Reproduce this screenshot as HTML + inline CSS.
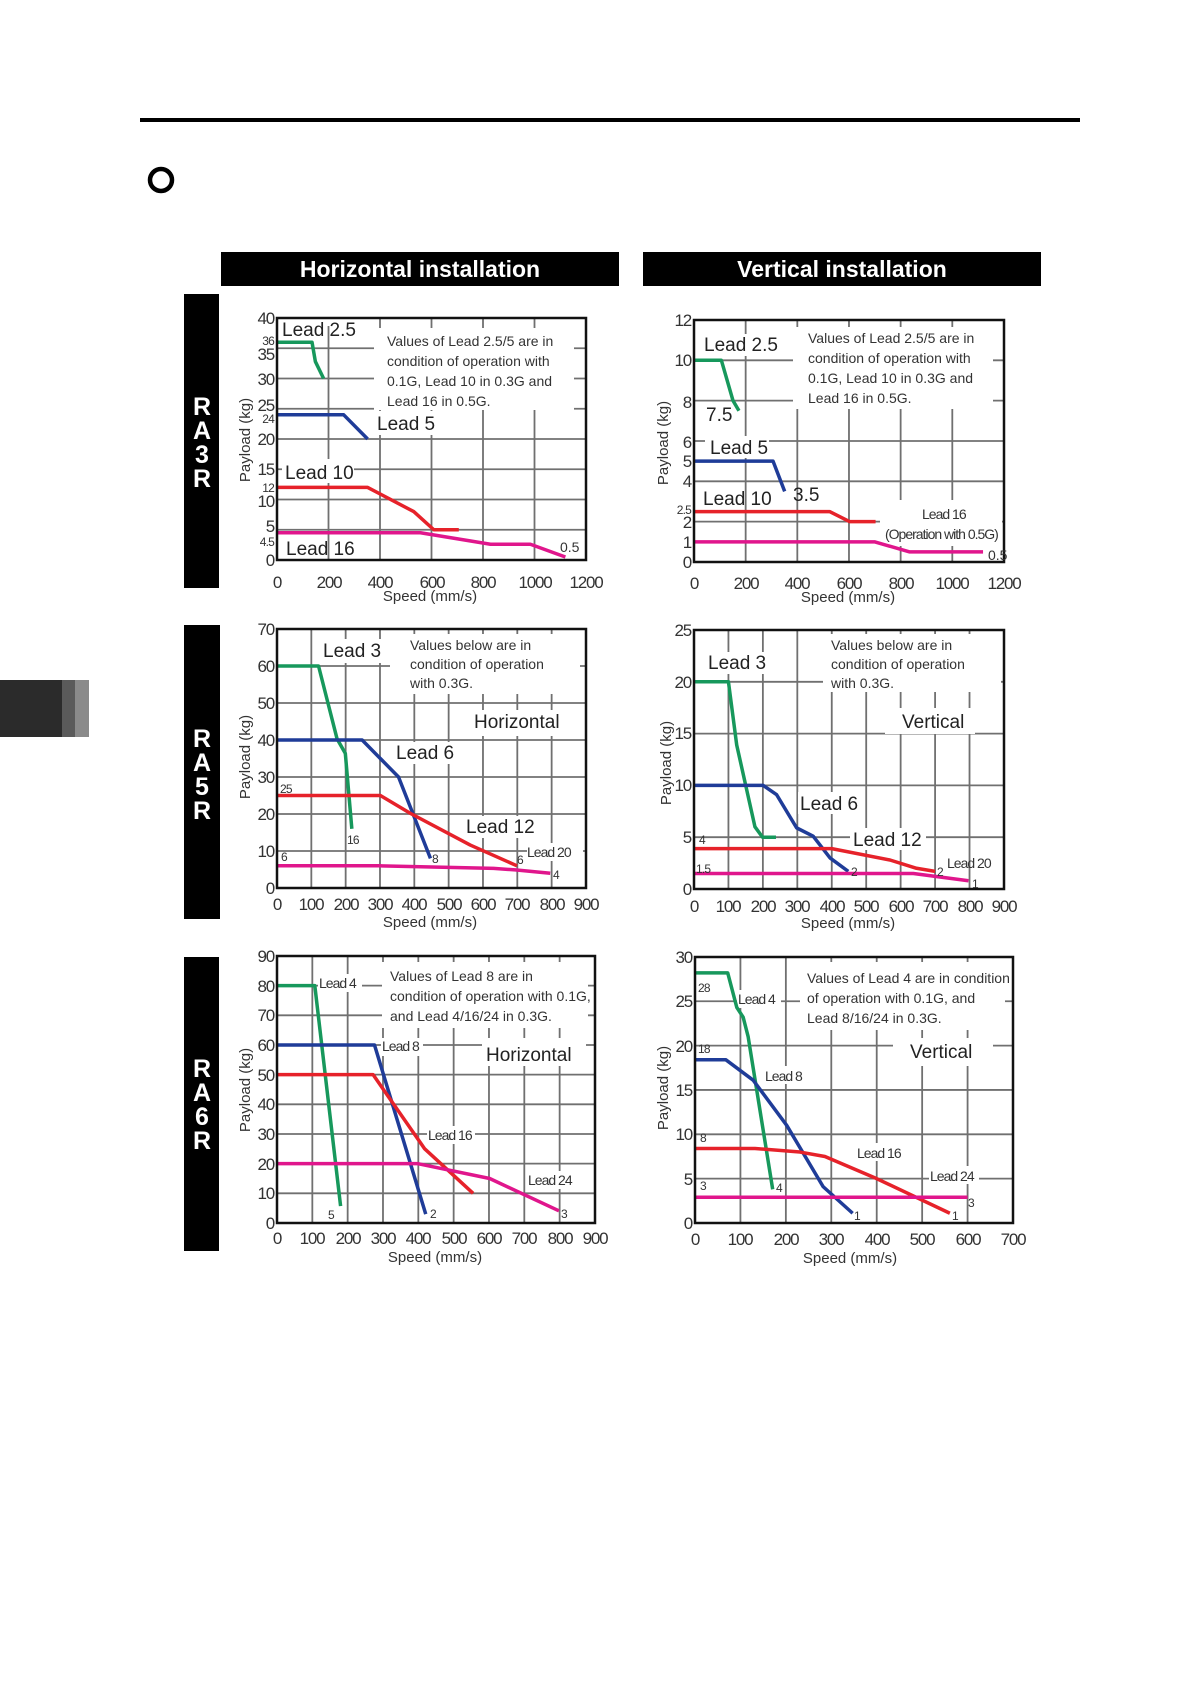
<!DOCTYPE html>
<html><head><meta charset="utf-8"><style>
html,body{margin:0;padding:0;background:#fff;width:1191px;height:1684px;overflow:hidden}
svg{display:block;font-family:"Liberation Sans",sans-serif}
.g{fill:none;stroke:#707070;stroke-width:1.8}
.b{fill:none;stroke:#111;stroke-width:2.5}
.d{fill:none;stroke-width:3.5;stroke-linejoin:round}
.gr{stroke:#17985c}.bl{stroke:#1f3c98}.rd{stroke:#e6222a}.mg{stroke:#e0168c}
.t{fill:#333;font-size:17px;letter-spacing:-1.2px}
.yl{fill:#333;font-size:17px;letter-spacing:-1.2px;text-anchor:end}
.xl{fill:#333;font-size:17px;letter-spacing:-1.2px;text-anchor:middle}
.n{fill:#333;font-size:14px}
.L{fill:#222;font-size:19px}
.s{fill:#333;font-size:15px;text-anchor:middle}
.sm{fill:#333;font-size:12px;letter-spacing:-0.8px}
.r{fill:#fff;font-size:25px;font-weight:bold;text-anchor:middle}
</style></head><body>
<svg width="1191" height="1684" viewBox="0 0 1191 1684">
<rect x="140" y="118" width="940" height="4" fill="#000"/>
<circle cx="161" cy="180" r="11" fill="none" stroke="#000" stroke-width="4.5"/>
<rect x="0" y="680" width="62" height="57" fill="#2b2b2b"/>
<rect x="62" y="680" width="13" height="57" fill="#5a5a5a"/>
<rect x="75" y="680" width="14" height="57" fill="#8a8a8a"/>

<rect x="221" y="252" width="398" height="34" fill="#000"/>
<text x="420" y="277" fill="#fff" font-size="23" font-weight="bold" text-anchor="middle">Horizontal installation</text>
<rect x="643" y="252" width="398" height="34" fill="#000"/>
<text x="842" y="277" fill="#fff" font-size="23" font-weight="bold" text-anchor="middle">Vertical installation</text>

<rect x="184" y="294" width="35" height="294" fill="#000"/>
<text class="r"><tspan x="202" y="415">R</tspan><tspan x="202" y="439">A</tspan><tspan x="202" y="463">3</tspan><tspan x="202" y="487">R</tspan></text>
<rect x="184" y="625" width="36" height="294" fill="#000"/>
<text class="r"><tspan x="202" y="747">R</tspan><tspan x="202" y="771">A</tspan><tspan x="202" y="795">5</tspan><tspan x="202" y="819">R</tspan></text>
<rect x="184" y="957" width="35" height="294" fill="#000"/>
<text class="r"><tspan x="202" y="1077">R</tspan><tspan x="202" y="1101">A</tspan><tspan x="202" y="1125">6</tspan><tspan x="202" y="1149">R</tspan></text>

<!-- Chart A: H RA3R -->
<g transform="translate(277,560) scale(0.2575,-6.05)">
<path class="g" vector-effect="non-scaling-stroke" d="M200 0V40M400 0V40M600 0V40M800 0V40M1000 0V40M0 5H1200M0 10H1200M0 15H1200M0 20H1200M0 25H1200M0 30H1200M0 35H1200"/>
</g>
<rect x="374" y="328" width="200" height="82" fill="#fff"/>
<rect x="282" y="459" width="72" height="24" fill="#fff"/>
<rect x="375" y="411" width="72" height="24" fill="#fff"/>
<rect x="282" y="302" width="80" height="24" fill="#fff"/>
<g transform="translate(277,560) scale(0.2575,-6.05)">
<path class="d gr" vector-effect="non-scaling-stroke" d="M0 36L136 36L149 32.8L181 30"/>
<path class="d bl" vector-effect="non-scaling-stroke" d="M0 24L259 24L352 20"/>
<path class="d rd" vector-effect="non-scaling-stroke" d="M0 12L352 12L531 8L609 5L706 5"/>
<path class="d mg" vector-effect="non-scaling-stroke" d="M0 4.5L557 4.5L829 2.6L984 2.6L1120 0.5"/>
</g>
<rect x="277" y="318" width="309" height="242" class="b"/>
<text class="L" x="282" y="336">Lead 2.5</text>
<text class="n"><tspan x="387" y="346">Values of Lead 2.5/5 are in</tspan><tspan x="387" y="366">condition of operation with</tspan><tspan x="387" y="386">0.1G, Lead 10 in 0.3G and</tspan><tspan x="387" y="406">Lead 16 in 0.5G.</tspan></text>
<text class="L" x="377" y="430">Lead 5</text>
<text class="L" x="285" y="479">Lead 10</text>
<text class="L" x="286" y="555">Lead 16</text>
<text class="n" x="560" y="552">0.5</text>
<text class="yl"><tspan x="274" y="324">40</tspan><tspan x="274" y="360">35</tspan><tspan x="274" y="385">30</tspan><tspan x="274" y="411">25</tspan><tspan x="274" y="445">20</tspan><tspan x="274" y="475">15</tspan><tspan x="274" y="507">10</tspan><tspan x="274" y="532">5</tspan><tspan x="274" y="566">0</tspan></text>
<text class="sm" text-anchor="end"><tspan x="274" y="345">36</tspan><tspan x="274" y="423">24</tspan><tspan x="274" y="492">12</tspan><tspan x="274" y="546">4.5</tspan></text>
<text class="xl"><tspan x="277" y="588">0</tspan><tspan x="329" y="588">200</tspan><tspan x="380" y="588">400</tspan><tspan x="432" y="588">600</tspan><tspan x="483" y="588">800</tspan><tspan x="535" y="588">1000</tspan><tspan x="586" y="588">1200</tspan></text>
<text class="s" x="430" y="601">Speed (mm/s)</text>
<text class="s" transform="translate(250,440) rotate(-90)">Payload (kg)</text>

<!-- Chart B: V RA3R -->
<g transform="translate(694,562) scale(0.2583,-20.17)">
<path class="g" vector-effect="non-scaling-stroke" d="M200 0V12M400 0V12M600 0V12M800 0V12M1000 0V12M0 2H1200M0 4H1200M0 6H1200M0 8H1200M0 10H1200"/>
</g>
<rect x="793" y="327" width="200" height="82" fill="#fff"/>
<rect x="880" y="500" width="122" height="46" fill="#fff"/>
<rect x="700" y="334" width="80" height="22" fill="#fff"/>
<rect x="705" y="436" width="64" height="22" fill="#fff"/>
<g transform="translate(694,562) scale(0.2583,-20.17)">
<path class="d gr" vector-effect="non-scaling-stroke" d="M0 10L106 10L151 8L174 7.5"/>
<path class="d bl" vector-effect="non-scaling-stroke" d="M0 5L306 5L351 3.5"/>
<path class="d rd" vector-effect="non-scaling-stroke" d="M0 2.5L525 2.5L603 2L703 2"/>
<path class="d mg" vector-effect="non-scaling-stroke" d="M0 1L699 1L835 0.5L1119 0.5"/>
</g>
<rect x="694" y="320" width="310" height="242" class="b"/>
<text class="L" x="704" y="351">Lead 2.5</text>
<text class="n"><tspan x="808" y="343">Values of Lead 2.5/5 are in</tspan><tspan x="808" y="363">condition of operation with</tspan><tspan x="808" y="383">0.1G, Lead 10 in 0.3G and</tspan><tspan x="808" y="403">Lead 16 in 0.5G.</tspan></text>
<text class="L" x="706" y="421">7.5</text>
<text class="L" x="710" y="454">Lead 5</text>
<text class="L" x="703" y="505">Lead 10</text>
<text class="L" x="793" y="501">3.5</text>
<text class="n" x="922" y="519" letter-spacing="-1">Lead 16</text>
<text class="n" x="885" y="539" letter-spacing="-1">(Operation with 0.5G)</text>
<text class="n" x="988" y="560">0.5</text>
<text class="yl"><tspan x="691" y="326">12</tspan><tspan x="691" y="366">10</tspan><tspan x="691" y="408">8</tspan><tspan x="691" y="448">6</tspan><tspan x="691" y="467">5</tspan><tspan x="691" y="487">4</tspan><tspan x="691" y="528">2</tspan><tspan x="691" y="548">1</tspan><tspan x="691" y="568">0</tspan></text>
<text class="sm" text-anchor="end" x="691" y="514">2.5</text>
<text class="xl"><tspan x="694" y="589">0</tspan><tspan x="746" y="589">200</tspan><tspan x="797" y="589">400</tspan><tspan x="849" y="589">600</tspan><tspan x="901" y="589">800</tspan><tspan x="952" y="589">1000</tspan><tspan x="1004" y="589">1200</tspan></text>
<text class="s" x="848" y="602">Speed (mm/s)</text>
<text class="s" transform="translate(668,443) rotate(-90)">Payload (kg)</text>

<!-- Chart C: H RA5R -->
<g transform="translate(277,888) scale(0.3433,-3.7)">
<path class="g" vector-effect="non-scaling-stroke" d="M100 0V70M200 0V70M300 0V70M400 0V70M500 0V70M600 0V70M700 0V70M800 0V70M0 10H900M0 20H900M0 30H900M0 40H900M0 50H900M0 60H900"/>
</g>
<rect x="390" y="634" width="190" height="60" fill="#fff"/>
<rect x="466" y="710" width="104" height="26" fill="#fff"/>
<rect x="318" y="639" width="68" height="24" fill="#fff"/>
<rect x="394" y="742" width="64" height="22" fill="#fff"/>
<rect x="464" y="816" width="76" height="22" fill="#fff"/>
<rect x="527" y="843" width="56" height="18" fill="#fff"/>
<g transform="translate(277,888) scale(0.3433,-3.7)">
<path class="d gr" vector-effect="non-scaling-stroke" d="M0 60L121 60L175 40.3L199 36.4L218 16"/>
<path class="d bl" vector-effect="non-scaling-stroke" d="M0 40L248 40L354 30L447 8"/>
<path class="d rd" vector-effect="non-scaling-stroke" d="M0 25L301 25L388 20.2L563 11.6L699 6"/>
<path class="d mg" vector-effect="non-scaling-stroke" d="M0 6L300 6L631 5.3L694 4.9L796 4"/>
</g>
<rect x="277" y="629" width="309" height="259" class="b"/>
<text class="L" x="323" y="657">Lead 3</text>
<text class="n"><tspan x="410" y="650">Values below are in</tspan><tspan x="410" y="669">condition of operation</tspan><tspan x="410" y="688">with 0.3G.</tspan></text>
<text class="L" x="474" y="728">Horizontal</text>
<text class="L" x="396" y="759">Lead 6</text>
<text class="L" x="466" y="833">Lead 12</text>
<text class="n" x="527" y="857" font-size="16" letter-spacing="-1">Lead 20</text>
<text class="sm"><tspan x="280" y="793">25</tspan><tspan x="347" y="844">16</tspan><tspan x="432" y="863">8</tspan><tspan x="517" y="864">6</tspan><tspan x="281" y="861">6</tspan><tspan x="553" y="879">4</tspan></text>
<text class="yl"><tspan x="274" y="635">70</tspan><tspan x="274" y="672">60</tspan><tspan x="274" y="709">50</tspan><tspan x="274" y="746">40</tspan><tspan x="274" y="783">30</tspan><tspan x="274" y="820">20</tspan><tspan x="274" y="857">10</tspan><tspan x="274" y="894">0</tspan></text>
<text class="xl"><tspan x="277" y="910">0</tspan><tspan x="311" y="910">100</tspan><tspan x="346" y="910">200</tspan><tspan x="380" y="910">300</tspan><tspan x="414" y="910">400</tspan><tspan x="449" y="910">500</tspan><tspan x="483" y="910">600</tspan><tspan x="517" y="910">700</tspan><tspan x="552" y="910">800</tspan><tspan x="586" y="910">900</tspan></text>
<text class="s" x="430" y="927">Speed (mm/s)</text>
<text class="s" transform="translate(250,757) rotate(-90)">Payload (kg)</text>

<!-- Chart D: V RA5R -->
<g transform="translate(694,889) scale(0.3444,-10.36)">
<path class="g" vector-effect="non-scaling-stroke" d="M100 0V25M200 0V25M300 0V25M400 0V25M500 0V25M600 0V25M700 0V25M800 0V25M0 5H900M0 10H900M0 15H900M0 20H900"/>
</g>
<rect x="823" y="634" width="178" height="58" fill="#fff"/>
<rect x="885" y="708" width="90" height="26" fill="#fff"/>
<rect x="706" y="652" width="66" height="22" fill="#fff"/>
<rect x="798" y="792" width="62" height="22" fill="#fff"/>
<rect x="850" y="828" width="76" height="22" fill="#fff"/>
<g transform="translate(694,889) scale(0.3444,-10.36)">
<path class="d gr" vector-effect="non-scaling-stroke" d="M0 20L100 20L124 13.9L177 6L199 5L238 5"/>
<path class="d bl" vector-effect="non-scaling-stroke" d="M0 10L201 10L240 9.1L298 5.9L346 5.1L395 3L448 1.7"/>
<path class="d rd" vector-effect="non-scaling-stroke" d="M0 3.9L400 3.9L569 2.8L646 2L700 1.7"/>
<path class="d mg" vector-effect="non-scaling-stroke" d="M0 1.5L637 1.5L797 0.8"/>
</g>
<rect x="694" y="630" width="310" height="259" class="b"/>
<text class="L" x="708" y="669">Lead 3</text>
<text class="n"><tspan x="831" y="650">Values below are in</tspan><tspan x="831" y="669">condition of operation</tspan><tspan x="831" y="688">with 0.3G.</tspan></text>
<text class="L" x="902" y="728">Vertical</text>
<text class="L" x="800" y="810">Lead 6</text>
<text class="L" x="853" y="846">Lead 12</text>
<text class="n" x="947" y="868" font-size="16" letter-spacing="-1">Lead 20</text>
<text class="sm"><tspan x="699" y="844">4</tspan><tspan x="696" y="873">1.5</tspan><tspan x="851" y="876">2</tspan><tspan x="937" y="876">2</tspan><tspan x="972" y="888">1</tspan></text>
<text class="yl"><tspan x="691" y="636">25</tspan><tspan x="691" y="688">20</tspan><tspan x="691" y="739">15</tspan><tspan x="691" y="791">10</tspan><tspan x="691" y="843">5</tspan><tspan x="691" y="895">0</tspan></text>
<text class="xl"><tspan x="694" y="912">0</tspan><tspan x="728" y="912">100</tspan><tspan x="763" y="912">200</tspan><tspan x="797" y="912">300</tspan><tspan x="832" y="912">400</tspan><tspan x="866" y="912">500</tspan><tspan x="901" y="912">600</tspan><tspan x="935" y="912">700</tspan><tspan x="970" y="912">800</tspan><tspan x="1004" y="912">900</tspan></text>
<text class="s" x="848" y="928">Speed (mm/s)</text>
<text class="s" transform="translate(671,763) rotate(-90)">Payload (kg)</text>

<!-- Chart E: H RA6R -->
<g transform="translate(277,1223) scale(0.3533,-2.967)">
<path class="g" vector-effect="non-scaling-stroke" d="M100 0V90M200 0V90M300 0V90M400 0V90M500 0V90M600 0V90M700 0V90M800 0V90M0 10H900M0 20H900M0 30H900M0 40H900M0 50H900M0 60H900M0 70H900M0 80H900"/>
</g>
<rect x="382" y="962" width="206" height="66" fill="#fff"/>
<rect x="482" y="1038" width="104" height="28" fill="#fff"/>
<rect x="318" y="974" width="44" height="18" fill="#fff"/>
<rect x="381" y="1038" width="42" height="18" fill="#fff"/>
<rect x="427" y="1126" width="48" height="18" fill="#fff"/>
<rect x="527" y="1171" width="50" height="18" fill="#fff"/>
<g transform="translate(277,1223) scale(0.3533,-2.967)">
<path class="d gr" vector-effect="non-scaling-stroke" d="M0 80L107 80L180 5.7"/>
<path class="d bl" vector-effect="non-scaling-stroke" d="M0 60L276 60L421 3"/>
<path class="d rd" vector-effect="non-scaling-stroke" d="M0 50L272 50L418 25L555 10"/>
<path class="d mg" vector-effect="non-scaling-stroke" d="M0 20L399 20L602 15L798 4.1"/>
</g>
<rect x="277" y="956" width="318" height="267" class="b"/>
<text class="n" x="319" y="988" letter-spacing="-1">Lead 4</text>
<text class="n"><tspan x="390" y="981">Values of Lead 8 are in</tspan><tspan x="390" y="1001">condition of operation with 0.1G,</tspan><tspan x="390" y="1021">and Lead 4/16/24 in 0.3G.</tspan></text>
<text class="n" x="382" y="1051" font-size="15" letter-spacing="-1">Lead 8</text>
<text class="L" x="486" y="1061">Horizontal</text>
<text class="n" x="428" y="1140" font-size="15" letter-spacing="-1">Lead 16</text>
<text class="n" x="528" y="1185" font-size="15" letter-spacing="-1">Lead 24</text>
<text class="sm"><tspan x="328" y="1219">5</tspan><tspan x="430" y="1218">2</tspan><tspan x="561" y="1218">3</tspan></text>
<text class="yl"><tspan x="274" y="962">90</tspan><tspan x="274" y="992">80</tspan><tspan x="274" y="1021">70</tspan><tspan x="274" y="1051">60</tspan><tspan x="274" y="1081">50</tspan><tspan x="274" y="1110">40</tspan><tspan x="274" y="1140">30</tspan><tspan x="274" y="1170">20</tspan><tspan x="274" y="1199">10</tspan><tspan x="274" y="1229">0</tspan></text>
<text class="xl"><tspan x="277" y="1244">0</tspan><tspan x="312" y="1244">100</tspan><tspan x="348" y="1244">200</tspan><tspan x="383" y="1244">300</tspan><tspan x="418" y="1244">400</tspan><tspan x="454" y="1244">500</tspan><tspan x="489" y="1244">600</tspan><tspan x="524" y="1244">700</tspan><tspan x="560" y="1244">800</tspan><tspan x="595" y="1244">900</tspan></text>
<text class="s" x="435" y="1262">Speed (mm/s)</text>
<text class="s" transform="translate(250,1090) rotate(-90)">Payload (kg)</text>

<!-- Chart F: V RA6R -->
<g transform="translate(695,1223) scale(0.4543,-8.87)">
<path class="g" vector-effect="non-scaling-stroke" d="M100 0V30M200 0V30M300 0V30M400 0V30M500 0V30M600 0V30M0 5H700M0 10H700M0 15H700M0 20H700M0 25H700"/>
</g>
<rect x="800" y="962" width="205" height="68" fill="#fff"/>
<rect x="893" y="1038" width="100" height="28" fill="#fff"/>
<rect x="737" y="990" width="44" height="18" fill="#fff"/>
<rect x="764" y="1066" width="44" height="18" fill="#fff"/>
<rect x="856" y="1143" width="50" height="18" fill="#fff"/>
<rect x="929" y="1166" width="50" height="18" fill="#fff"/>
<g transform="translate(695,1223) scale(0.4543,-8.87)">
<path class="d gr" vector-effect="non-scaling-stroke" d="M0 28.2L72 28.2L92 24.3L106 23.2L117 21L171 3.8"/>
<path class="d bl" vector-effect="non-scaling-stroke" d="M0 18.4L68 18.4L128 16.1L202 11L282 4.1L347 1.1"/>
<path class="d rd" vector-effect="non-scaling-stroke" d="M0 8.4L132 8.4L231 8L286 7.5L400 5L561 1.1"/>
<path class="d mg" vector-effect="non-scaling-stroke" d="M0 2.9L600 2.9"/>
</g>
<rect x="695" y="957" width="318" height="266" class="b"/>
<text class="n" x="738" y="1004" letter-spacing="-1">Lead 4</text>
<text class="n"><tspan x="807" y="983">Values of Lead 4 are in condition</tspan><tspan x="807" y="1003">of operation with 0.1G, and</tspan><tspan x="807" y="1023">Lead 8/16/24 in 0.3G.</tspan></text>
<text class="L" x="910" y="1058">Vertical</text>
<text class="n" x="765" y="1081" font-size="15" letter-spacing="-1">Lead 8</text>
<text class="n" x="857" y="1158" font-size="15" letter-spacing="-1">Lead 16</text>
<text class="n" x="930" y="1181" font-size="15" letter-spacing="-1">Lead 24</text>
<text class="sm"><tspan x="698" y="992">28</tspan><tspan x="698" y="1053">18</tspan><tspan x="700" y="1142">8</tspan><tspan x="700" y="1190">3</tspan><tspan x="776" y="1192">4</tspan><tspan x="854" y="1220">1</tspan><tspan x="952" y="1220">1</tspan><tspan x="968" y="1207">3</tspan></text>
<text class="yl"><tspan x="692" y="963">30</tspan><tspan x="692" y="1007">25</tspan><tspan x="692" y="1052">20</tspan><tspan x="692" y="1096">15</tspan><tspan x="692" y="1140">10</tspan><tspan x="692" y="1185">5</tspan><tspan x="692" y="1229">0</tspan></text>
<text class="xl"><tspan x="695" y="1245">0</tspan><tspan x="740" y="1245">100</tspan><tspan x="786" y="1245">200</tspan><tspan x="831" y="1245">300</tspan><tspan x="877" y="1245">400</tspan><tspan x="922" y="1245">500</tspan><tspan x="968" y="1245">600</tspan><tspan x="1013" y="1245">700</tspan></text>
<text class="s" x="850" y="1263">Speed (mm/s)</text>
<text class="s" transform="translate(668,1088) rotate(-90)">Payload (kg)</text>
</svg>
</body></html>
